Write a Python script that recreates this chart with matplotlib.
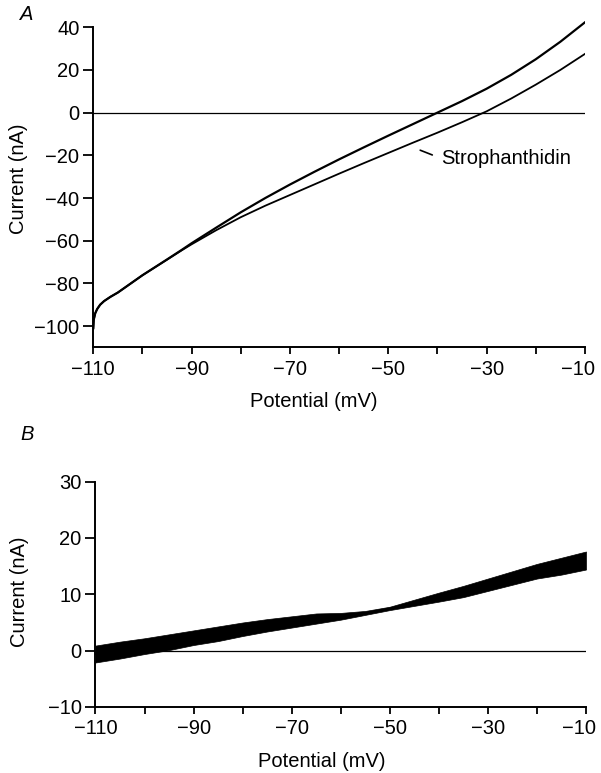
import matplotlib
matplotlib.use("Agg")
import matplotlib.pyplot as plt
import matplotlib.transforms as mtransforms
import numpy as np

plt.rcParams['font.family'] = ['Liberation Sans', 'DejaVu Sans']
plt.rcParams['font.size'] = 14.5

# Panel A: I-V curves, control and strophanthidin (mV, nA)
a_potential = [-110, -109.9, -109.6, -109.2, -108.6, -107.8, -106.5, -105,
               -100, -95, -92, -90, -85, -80, -75, -70, -65, -60, -55, -50,
               -45, -40, -35, -30, -25, -20, -15, -10]
a_control = [-101, -97, -94, -92, -90, -88.3, -86.3, -84.3,
             -76.2, -68.8, -64.3, -61.2, -53.9, -46.7, -40.0, -33.7, -27.7,
             -21.9, -16.3, -10.8, -5.4, 0.0, 5.4, 11.2, 17.7, 25.0, 33.2, 42.3]
a_stroph = [-101, -97, -94, -92, -90, -88.3, -86.3, -84.3,
            -76.2, -68.9, -64.5, -61.7, -55.1, -49.0, -43.6, -38.6, -33.6,
            -28.6, -23.7, -18.9, -14.1, -9.4, -4.5, 0.6, 6.6, 13.1, 20.0, 27.5]

# Panel B: difference current with its noise envelope (half width)
b_potential = [-110, -105, -100, -95, -90, -85, -80, -75, -70, -65, -60,
               -55, -50, -45, -40, -35, -30, -25, -20, -15, -10]
b_current = [-0.6, 0.1, 0.8, 1.5, 2.3, 3.0, 3.8, 4.5, 5.1, 5.7, 6.1,
             6.7, 7.5, 8.5, 9.5, 10.5, 11.7, 12.9, 14.1, 15.0, 16.0]
b_noise = [1.5, 1.5, 1.4, 1.4, 1.3, 1.3, 1.2, 1.1, 1.0, 0.9, 0.6,
           0.35, 0.3, 0.55, 0.8, 1.0, 1.1, 1.2, 1.3, 1.5, 1.6]

x_major = [-110, -90, -70, -50, -30, -10]
x_minor = [-100, -80, -60, -40, -20]


def minus(v):
    return ("\u2212%d" % abs(v)) if v < 0 else str(v)


def style_axes(ax):
    for side in ("top", "right"):
        ax.spines[side].set_visible(False)
    for side in ("left", "bottom"):
        ax.spines[side].set_linewidth(1.4)
    ax.set_xlim(-110, -10)
    ax.set_xticks(x_major)
    ax.set_xticks(x_minor, minor=True)
    ax.set_xticklabels([minus(v) for v in x_major])
    ax.tick_params(axis="x", which="both", direction="out", length=5,
                   width=1.3, pad=4)
    ax.tick_params(axis="y", direction="out", length=7, width=1.3, pad=3)
    # last label sits a little left of its tick, as in the original
    last = ax.get_xticklabels()[-1]
    shift = mtransforms.ScaledTranslation(-7 / 100, 0, fig.dpi_scale_trans)
    last.set_transform(last.get_transform() + shift)


fig = plt.figure(figsize=(6.01, 7.73), dpi=100)

# ---- panel A
ax1 = fig.add_axes([0.1552, 0.5506, 0.818, 0.4224])
style_axes(ax1)
ax1.set_ylim(-110, 43)
ax1.spines["left"].set_bounds(-110, 40)
yt = [40, 20, 0, -20, -40, -60, -80, -100]
ax1.set_yticks(yt)
ax1.set_yticklabels([minus(v) for v in yt])
ax1.axhline(0, color="k", lw=0.9)
ax1.plot(a_potential, a_control, color="k", lw=1.6)
ax1.plot(a_potential, a_stroph, color="k", lw=1.3)
ax1.annotate("Strophanthidin", xy=(-43.5, -17.6), xytext=(-39.2, -21.5),
             ha="left", va="center",
             arrowprops=dict(arrowstyle="-", lw=1.2, color="k",
                             patchA=None, shrinkA=7, shrinkB=0,
                             relpos=(0, 0.5)))
ax1.set_xlabel("Potential (mV)", va="center")
ax1.xaxis.set_label_coords(0.449, -0.167)
ax1.set_ylabel("Current (nA)", va="center")
ax1.yaxis.set_label_coords(-0.153, 0.516)

# ---- panel B
ax2 = fig.add_axes([0.1589, 0.0854, 0.8161, 0.2915])
style_axes(ax2)
ax2.set_ylim(-10, 30)
yt2 = [30, 20, 10, 0, -10]
ax2.set_yticks(yt2)
ax2.set_yticklabels([minus(v) for v in yt2])
ax2.axhline(0, color="k", lw=0.9)
bc = np.array(b_current)
bn = np.array(b_noise)
ax2.fill_between(b_potential, bc - bn, bc + bn, color="k", lw=0.5)
ax2.plot(b_potential, b_current, color="k", lw=1.2)
ax2.set_xlabel("Potential (mV)", va="center")
ax2.xaxis.set_label_coords(0.462, -0.24)
ax2.set_ylabel("Current (nA)", va="center")
ax2.yaxis.set_label_coords(-0.155, 0.51)

fig.text(27 / 601, 1 - 15 / 773, "A", style="italic", ha="center", va="center")
fig.text(27 / 601, 1 - 435 / 773, "B", style="italic", ha="center", va="center")

fig.savefig("out.png", dpi=100)
